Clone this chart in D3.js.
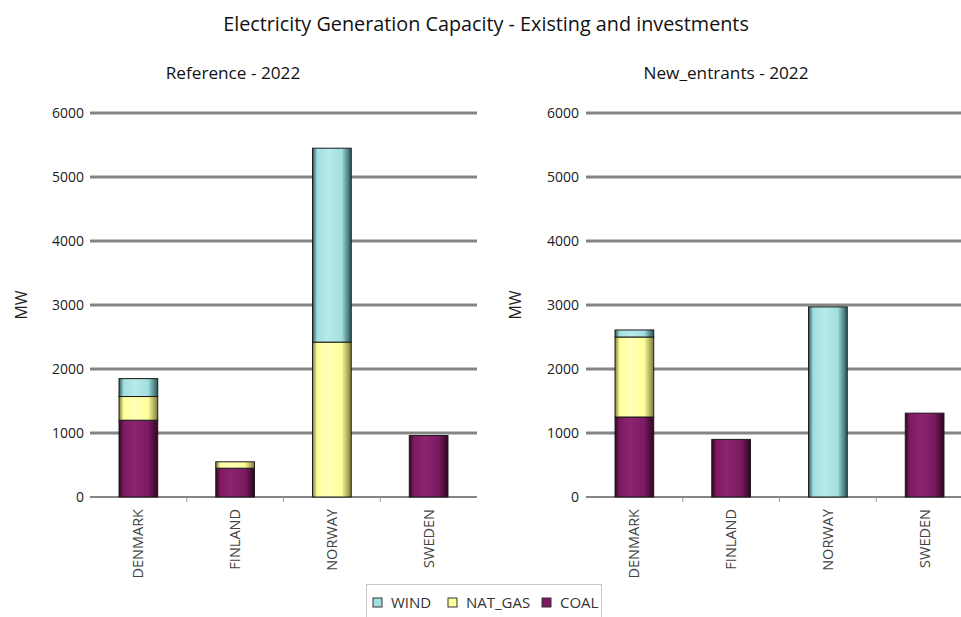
<!DOCTYPE html>
<html><head><meta charset="utf-8">
<script src="https://cdn.jsdelivr.net/npm/d3@7"></script>
<style>body{margin:0;background:#fff}svg{display:block;font-family:"Open Sans",Lato,sans-serif}</style>
</head><body><svg id="c" width="961" height="617"></svg>
<script>
const categories = ["DENMARK","FINLAND","NORWAY","SWEDEN"];
const seriesNames = ["COAL","NAT_GAS","WIND"];
const legendOrder = ["WIND","NAT_GAS","COAL"];
const refCoal = [1200, 450, 0, 960];
const refGas = [370, 100, 2420, 0];
const refWind = [280, 0, 3030, 0];
const newCoal = [1250, 900, 0, 1310];
const newGas = [1250, 0, 0, 0];
const newWind = [110, 0, 2970, 0];
const yTicks = [0,1000,2000,3000,4000,5000,6000];
const title = "Electricity Generation Capacity - Existing and investments";
const panelTitles = ["Reference - 2022","New_entrants - 2022"];

const colors = {
  WIND: {mid:"#a3dfe0", edge:"#2a5557", light:"#b8eaea"},
  NAT_GAS: {mid:"#ffff9c", edge:"#7d7d3a", light:"#ffffb8"},
  COAL: {mid:"#7d1a62", edge:"#2e0822", light:"#8c2470"}
};

const svg = d3.select("#c");
const defs = svg.append("defs");
Object.entries(colors).forEach(([k,c])=>{
  const g = defs.append("linearGradient").attr("id","g_"+k).attr("x1","0").attr("x2","1").attr("y1","0").attr("y2","0");
  g.append("stop").attr("offset","0").attr("stop-color",c.edge);
  g.append("stop").attr("offset","0.12").attr("stop-color",c.mid);
  g.append("stop").attr("offset","0.4").attr("stop-color",c.light);
  g.append("stop").attr("offset","0.75").attr("stop-color",c.mid);
  g.append("stop").attr("offset","1").attr("stop-color",c.edge);
});

svg.append("text").attr("x",486).attr("y",31).attr("text-anchor","middle")
  .attr("font-size",19.8).attr("fill","#111").text(title);

function makeTable(coal,gas,wind){
  return categories.map((c,i)=>({cat:c, COAL:coal[i], NAT_GAS:gas[i], WIND:wind[i]}));
}
const panels = [
  {data:makeTable(refCoal,refGas,refWind), x0:90, x1:477, titleX:233, labelX:84, mwX:21},
  {data:makeTable(newCoal,newGas,newWind), x0:586, x1:973, titleX:726, labelX:579, mwX:515}
];
const y = d3.scaleLinear().domain([0,6000]).range([497,113]);
const stack = d3.stack().keys(seriesNames);

panels.forEach((p,pi)=>{
  const g = svg.append("g");
  const x = d3.scaleBand().domain(categories).range([p.x0,p.x1]).paddingInner(0.6).paddingOuter(0.3);
  g.append("text").attr("x",p.titleX).attr("y",79).attr("text-anchor","middle")
    .attr("font-size",17.2).attr("fill","#111").text(panelTitles[pi]);
  g.selectAll("line.grid").data(yTicks).join("line")
    .attr("x1",p.x0).attr("x2",Math.min(p.x1,961)).attr("y1",d=>y(d)).attr("y2",d=>y(d))
    .attr("stroke","#858585").attr("stroke-width",d=>d===0?2:3);
  g.selectAll("text.yt").data(yTicks).join("text")
    .attr("x",p.labelX).attr("y",d=>y(d)).attr("dy","0.35em").attr("text-anchor","end")
    .attr("font-size",14).attr("fill","#222").text(d=>d);
  g.append("text").attr("transform",`translate(${p.mwX},305) rotate(-90)`).attr("text-anchor","middle")
    .attr("dy","0.35em").attr("font-size",16).attr("fill","#222").text("MW");
  const step = x.step();
  const bounds = d3.range(1,categories.length).map(i=>p.x0+step*i);
  g.selectAll("line.bt").data(bounds).join("line")
    .attr("x1",d=>d).attr("x2",d=>d).attr("y1",497).attr("y2",502).attr("stroke","#999");
  const series = stack(p.data);
  series.forEach(s=>{
    g.append("g").selectAll("rect").data(s.filter(d=>d[1]-d[0]>0)).join("rect")
      .attr("x",d=>x(d.data.cat)).attr("width",x.bandwidth())
      .attr("y",d=>y(d[1])).attr("height",d=>y(d[0])-y(d[1]))
      .attr("fill","url(#g_"+s.key+")").attr("stroke","#1a1a1a").attr("stroke-width",1);
  });
  g.selectAll("text.cat").data(categories).join("text")
    .attr("transform",d=>`translate(${x(d)+x.bandwidth()/2},509) rotate(-90)`)
    .attr("text-anchor","end").attr("dy","0.35em").attr("font-size",14.5).attr("fill","#444").text(d=>d);
});

const lg = svg.append("g");
lg.append("rect").attr("x",366.5).attr("y",584.5).attr("width",235).attr("height",36)
  .attr("fill","#fff").attr("stroke","#c8c8c8");
const legX = {WIND:373, NAT_GAS:448, COAL:542};
legendOrder.forEach(k=>{
  lg.append("rect").attr("x",legX[k]).attr("y",598).attr("width",9).attr("height",9)
    .attr("fill",colors[k].mid).attr("stroke","#333");
  lg.append("text").attr("x",legX[k]+18).attr("y",603).attr("dy","0.35em")
    .attr("font-size",15).attr("fill","#333").text(k);
});
</script></body></html>
